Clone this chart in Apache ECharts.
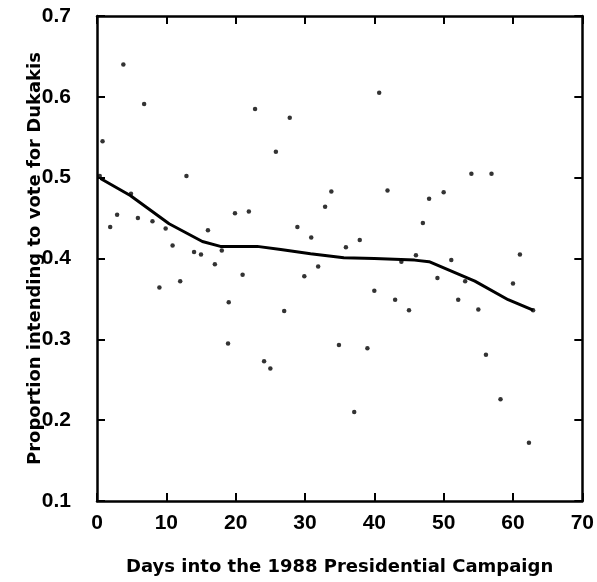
<!DOCTYPE html>
<html>
<head>
<meta charset="utf-8">
<script src="https://cdn.jsdelivr.net/npm/echarts@6/dist/echarts.min.js"></script>
<style>html,body{margin:0;padding:0;background:#fff}#c{width:597px;height:582px}</style>
</head>
<body>
<div id="c"></div>
<script>
const days = [0.4,0.8,1.9,2.9,3.8,4.9,5.9,6.8,8.0,9.0,9.9,10.9,12.0,12.9,14.0,15.0,16.0,17.0,18.0,18.9,19.0,19.9,21.0,21.9,22.8,24.1,25.0,25.8,27.0,27.8,28.9,29.9,30.9,31.9,32.9,33.8,34.9,35.9,37.1,37.9,39.0,40.0,40.7,41.9,43.0,43.9,45.0,46.0,47.0,47.9,49.1,50.0,51.1,52.1,53.1,54.0,55.0,56.1,56.9,58.2,60.0,61.0,62.3,62.9];
const proportions = [0.502,0.545,0.439,0.454,0.640,0.480,0.450,0.591,0.446,0.364,0.437,0.416,0.372,0.502,0.408,0.405,0.435,0.393,0.410,0.295,0.346,0.456,0.380,0.458,0.585,0.273,0.264,0.532,0.335,0.574,0.439,0.378,0.426,0.390,0.464,0.483,0.293,0.414,0.210,0.423,0.289,0.360,0.605,0.484,0.349,0.396,0.336,0.404,0.444,0.474,0.376,0.482,0.398,0.349,0.372,0.505,0.337,0.281,0.505,0.226,0.369,0.405,0.172,0.336];
const fitDays = [0.5,4.8,10.4,15.2,17.8,23.1,26.5,30.8,35.6,40.0,45.8,47.9,54.5,59.3,62.9];
const fitProps = [0.499,0.478,0.443,0.421,0.415,0.415,0.411,0.406,0.401,0.400,0.398,0.396,0.372,0.349,0.336];
const xTitle = 'Days into the 1988 Presidential Campaign';
const yTitle = 'Proportion intending to vote for Dukakis';

const chart = echarts.init(document.getElementById('c'));
const nameFont = 'DejaVu Sans';
const labelFont = '"Liberation Sans Narrow", "Liberation Sans", Arial, sans-serif';
const axisCommon = {
  axisLine: {show: true, onZero: false, lineStyle: {color: '#000', width: 2.5}},
  axisTick: {show: true, inside: true, length: 8, lineStyle: {color: '#000', width: 2}},
  splitLine: {show: false}
};
chart.setOption({
  animation: false,
  grid: {left: 97, right: 14, top: 16, bottom: 81},
  xAxis: [
    Object.assign({type: 'value', min: 0, max: 70, interval: 10, position: 'bottom',
      name: xTitle, nameLocation: 'middle', nameGap: 57, nameMoveOverlap: false,
      nameTextStyle: {fontFamily: nameFont, fontWeight: 'bold', fontSize: 18, color: '#000'},
      axisLabel: {fontFamily: labelFont, fontWeight: 'bold', fontSize: 21, color: '#000', margin: 12}}, axisCommon),
    Object.assign({type: 'value', min: 0, max: 70, interval: 10, position: 'top',
      axisLabel: {show: false}}, axisCommon)
  ],
  yAxis: [
    Object.assign({type: 'value', min: 0.1, max: 0.7, interval: 0.1, position: 'left',
      name: yTitle, nameLocation: 'middle', nameGap: 53, nameRotate: 90, nameMoveOverlap: false,
      nameTextStyle: {fontFamily: nameFont, fontWeight: 'bold', fontSize: 18, color: '#000'},
      axisLabel: {fontFamily: labelFont, fontWeight: 'bold', fontSize: 21, color: '#000', margin: 26,
        formatter: v => v.toFixed(1)}}, axisCommon),
    Object.assign({type: 'value', min: 0.1, max: 0.7, interval: 0.1, position: 'right',
      axisLabel: {show: false}}, axisCommon)
  ],
  series: [
    {type: 'scatter', symbol: 'circle', symbolSize: 4.5,
     itemStyle: {color: '#000'},
     data: days.map((d, i) => [d, proportions[i]])},
    {type: 'line', symbol: 'none', smooth: false,
     lineStyle: {color: '#000', width: 3},
     data: fitDays.map((d, i) => [d, fitProps[i]])}
  ]
});
</script>
</body>
</html>
